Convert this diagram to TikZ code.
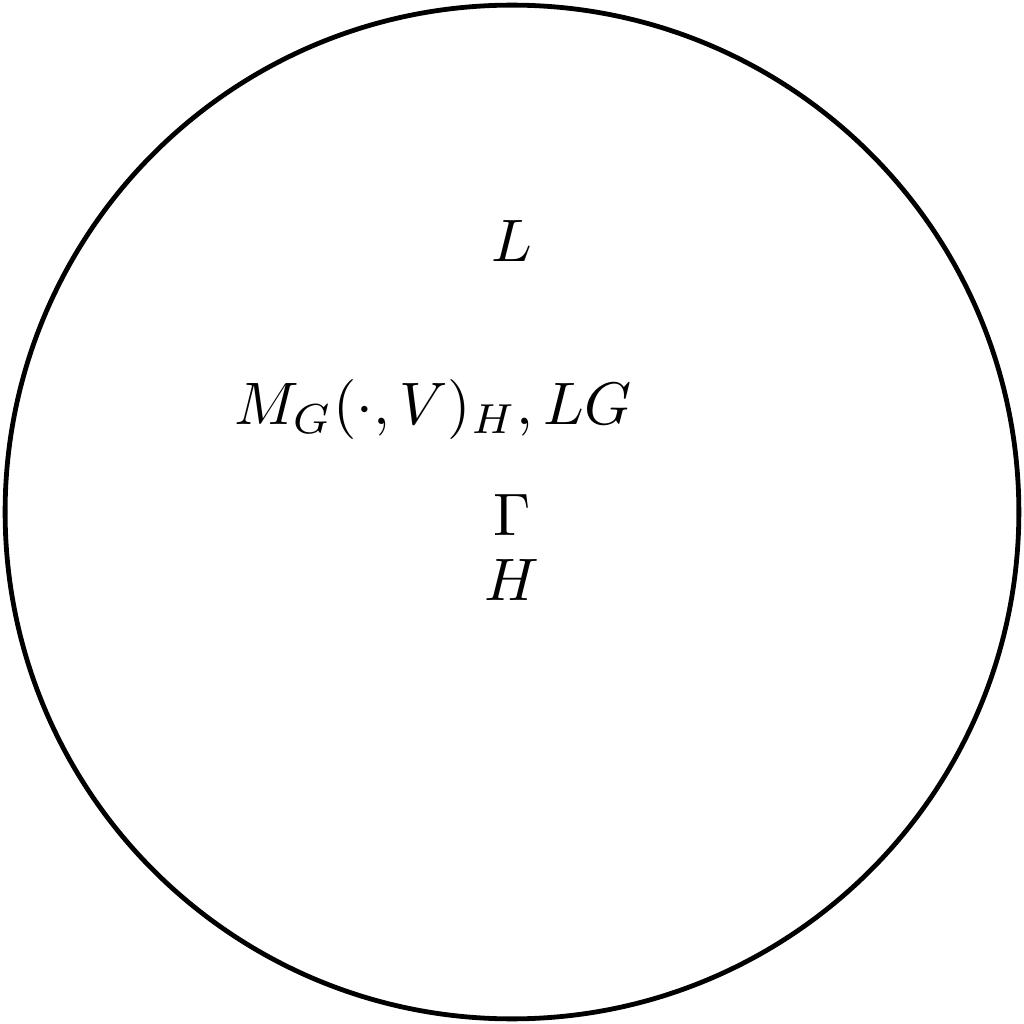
\documentclass[tikz,border=0pt]{standalone}
\begin{document}
\begin{tikzpicture}[lbl/.style={inner sep=0pt}]
\useasboundingbox (-3,-3) rectangle (3,3);
\node[draw,circle,minimum size=5.94cm,line width=0.8pt,inner sep=0pt] (c) at (0,0) {};
\node[lbl] (l) at (0,1.585) {$L$};
\node[lbl] (m) at (-0.463,0.60) {$M_G(\cdot,V)_H,LG$};
\node[lbl] (g) at (0,-0.018) {$\Gamma$};
\node[lbl] (h) at (0,-0.40) {$H$};
\end{tikzpicture}
\end{document}
